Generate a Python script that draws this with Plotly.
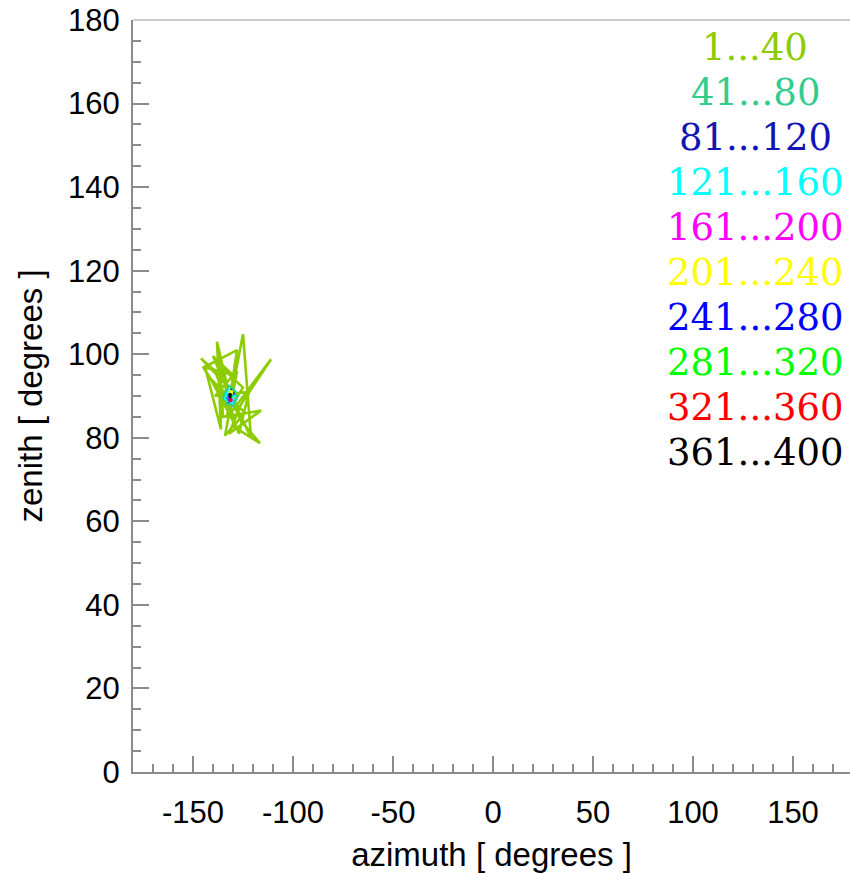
import plotly.graph_objects as go

# Track of the pointing direction, split into blocks of 40 samples
seg_labels = ["1...40", "41...80", "81...120", "121...160", "161...200",
              "201...240", "241...280", "281...320", "321...360", "361...400"]
seg_colors = ["#8ccc00", "#33cc8c", "#1414b4", "#00ffff", "#ff00ff",
              "#ffff00", "#0000ff", "#00ff00", "#ff0000", "#000000"]

az_ticks = [-150, -100, -50, 0, 50, 100, 150]
az_tick_text = ["-150", "-100", "-50", "0", "50", "100", "150"]

az_1_40 = [-131.5, -138, -136, -144, -128, -133, -125, -121, -134, -146,
           -139, -131, -111, -126, -132, -116, -135, -137, -129, -116.5,
           -126, -140, -130, -145, -133, -127, -122, -139, -128, -134,
           -124, -141, -130, -136, -125, -132, -129, -133, -130, -131.5]
zen_1_40 = [89.5, 103, 82, 97, 101, 85, 104.8, 80, 93, 99,
            96, 86, 98.8, 88, 81, 86.5, 85, 101, 82.5, 78.7,
            84, 99.5, 95, 97, 88, 81, 91, 90, 96, 80.5,
            86, 94, 84, 97, 92, 87, 91, 90, 89, 90]

az_41_80 = [-131.5, -134, -129, -133.5, -128.5, -132, -135, -130, -127.5, -133,
            -130.5, -134.5, -129.5, -131, -132.5, -130, -131.5]
zen_41_80 = [90, 91.5, 88.5, 88, 91, 92.5, 89.5, 87.5, 90, 91,
             88, 90.5, 91.8, 89, 90, 89.5, 90]

az_81_120 = [-131.5, -133, -130, -132.5, -129.5, -131, -133.5, -130.5, -132, -131,
             -130, -131.5]
zen_81_120 = [90, 91, 89, 88.5, 90.5, 91.5, 89.5, 88.8, 90.2, 89.2,
              90.8, 89.8]

az_121_160 = [-131.5, -133.5, -129.5, -132, -134, -130, -131, -133, -129, -132.5,
              -130.5, -131.5]
zen_121_160 = [89.8, 90.8, 89, 91.6, 89.3, 88.2, 90.5, 88.6, 90.2, 89.5,
               91, 89.6]

az_161_200 = [-131.5, -132.5, -130.8, -131.8, -130.5, -132, -131.2, -131.5]
zen_161_200 = [89.6, 88.9, 89.2, 90.4, 88.7, 89.9, 88.5, 89.3]

az_201_240 = [-131.2, -130.2, -131.8, -130.6, -131.5, -130.4, -131.2]
zen_201_240 = [90.6, 91.2, 90.9, 90.1, 91.4, 90.7, 90.3]

az_241_280 = [-131.6, -132.4, -131, -132, -130.8, -131.7, -131.4]
zen_241_280 = [89.7, 90.4, 89.2, 88.9, 90.2, 90.6, 89.5]

az_281_320 = [-131.4, -130.9, -131.9, -131.2, -130.7, -131.5]
zen_281_320 = [89.9, 90.6, 90.3, 89.4, 89.9, 90.1]

az_321_360 = [-131.3, -131.9, -130.9, -131.6, -131.1, -131.4]
zen_321_360 = [89.2, 88.8, 89.1, 89.6, 88.6, 89.0]

az_361_400 = [-131.5, -131.9, -131.1, -131.7, -131.2, -131.6, -131.4]
zen_361_400 = [90.0, 90.5, 90.3, 89.6, 89.8, 90.6, 90.1]

seg_az = [az_1_40, az_41_80, az_81_120, az_121_160, az_161_200,
          az_201_240, az_241_280, az_281_320, az_321_360, az_361_400]
seg_zen = [zen_1_40, zen_41_80, zen_81_120, zen_121_160, zen_161_200,
           zen_201_240, zen_241_280, zen_281_320, zen_321_360, zen_361_400]

fig = go.Figure()
for k, (az, zen, col) in enumerate(zip(seg_az, seg_zen, seg_colors)):
    fig.add_trace(go.Scatter(x=az, y=zen, mode="lines",
                             line=dict(color=col, width=2.6 if k == 0 else 2),
                             showlegend=False, hoverinfo="skip"))

# Block labels stacked in the upper right corner
label_top = 173.3
label_step = 10.75
for i, (txt, col) in enumerate(zip(seg_labels, seg_colors)):
    fig.add_annotation(x=131, y=label_top - i * label_step, xref="x", yref="y",
                       text=txt, showarrow=False, xanchor="center", yanchor="middle",
                       borderpad=0,
                       font=dict(family="DejaVu Serif", size=37, color=col))

axis_col = "#8c8c8c"
tick_font = dict(family="Liberation Sans", size=31, color="black")
title_font = dict(family="Liberation Sans", size=33, color="black")

fig.update_xaxes(range=[-180, 178.5], showline=True, linecolor=axis_col, linewidth=2,
                 showgrid=False, zeroline=False,
                 ticks="inside", tickcolor=axis_col, ticklen=16, tickwidth=2,
                 tickmode="array", tickvals=az_ticks, ticktext=az_tick_text,
                 tickfont=tick_font, ticklabelstandoff=12,
                 minor=dict(ticks="inside", dtick=10, tick0=0, ticklen=8,
                            tickcolor=axis_col, tickwidth=1.5),
                 title=dict(text="azimuth [ degrees ]", font=title_font, standoff=14))
fig.update_yaxes(range=[0, 180], showline=True, linecolor=axis_col, linewidth=2,
                 showgrid=False, zeroline=False,
                 ticks="inside", tickcolor=axis_col, ticklen=16, tickwidth=2,
                 tick0=0, dtick=20, tickfont=tick_font, ticklabelstandoff=5,
                 minor=dict(ticks="inside", dtick=5, ticklen=8, tickcolor=axis_col, tickwidth=1.5),
                 title=dict(text="zenith [ degrees ]", font=title_font, standoff=16))

fig.add_shape(type="line", xref="paper", yref="paper", x0=0, x1=1, y0=1, y1=1,
              line=dict(color="#cccccc", width=2))

fig.update_layout(width=850, height=873, margin=dict(l=133, r=0, t=20, b=101),
                  plot_bgcolor="white", paper_bgcolor="white")

fig.write_html("out.html")
